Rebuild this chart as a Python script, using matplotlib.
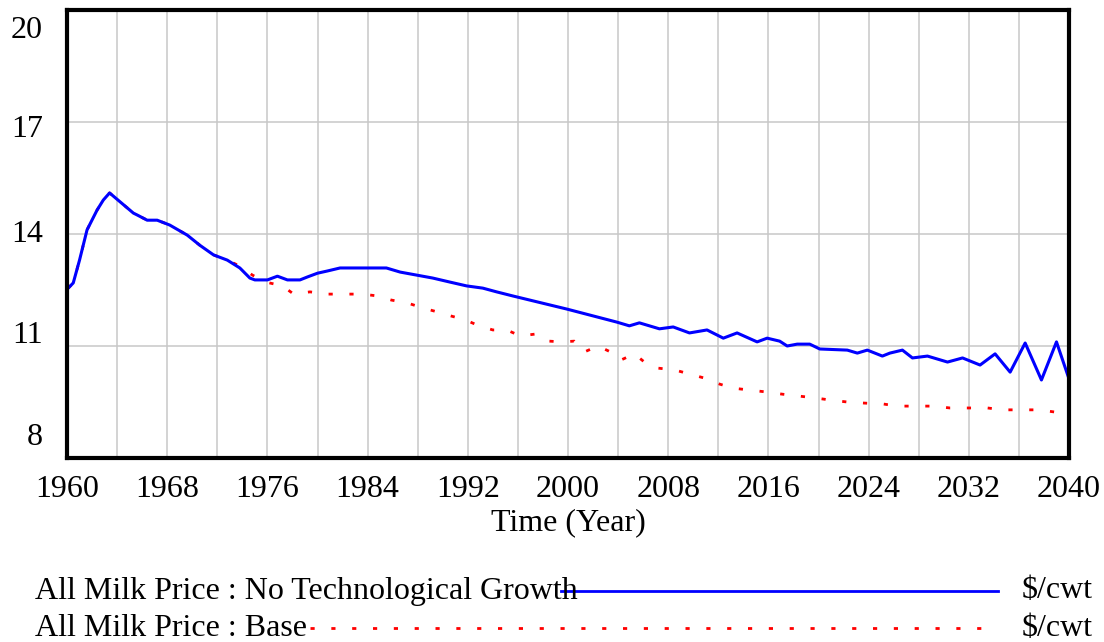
import numpy as np
import matplotlib.pyplot as plt
from matplotlib.lines import Line2D

# values (year, $/cwt)
years_ntg = [1960.1, 1960.5, 1961.0, 1961.6, 1962.4, 1962.9, 1963.4, 1965.3, 1965.6,
             1966.4, 1967.2, 1968.2, 1969.6, 1970.6, 1971.7, 1972.8, 1973.8, 1974.6,
             1975.0, 1976.0, 1976.8, 1977.6, 1978.6, 1979.2, 1980.0, 1980.8, 1981.8,
             1984.0, 1985.5, 1986.6, 1987.9, 1989.2, 1990.6, 1991.9, 1993.2, 1994.3,
             1995.6, 1998.3, 1999.9, 2002.3, 2003.9, 2004.9, 2005.7, 2007.3, 2008.4,
             2009.7, 2011.1, 2012.4, 2013.5, 2015.1, 2015.9, 2016.9, 2017.5, 2018.3,
             2019.3, 2020.1, 2022.3, 2023.1, 2023.9, 2025.1, 2025.7, 2026.7, 2027.5,
             2028.7, 2030.3, 2031.5, 2032.9, 2034.1, 2035.3, 2036.5, 2037.8, 2039.0,
             2040.0]
price_ntg = [12.55, 12.69, 13.30, 14.11, 14.64, 14.91, 15.10, 14.56, 14.51,
             14.37, 14.37, 14.24, 13.97, 13.70, 13.44, 13.30, 13.09, 12.82,
             12.77, 12.77, 12.87, 12.77, 12.77, 12.85, 12.95, 13.01, 13.09,
             13.09, 13.09, 12.98, 12.90, 12.82, 12.71, 12.61, 12.55, 12.45,
             12.34, 12.12, 11.99, 11.78, 11.64, 11.54, 11.62, 11.46, 11.51,
             11.35, 11.43, 11.21, 11.35, 11.11, 11.21, 11.13, 11.00, 11.05,
             11.05, 10.92, 10.89, 10.81, 10.89, 10.73, 10.81, 10.89, 10.68,
             10.73, 10.57, 10.68, 10.49, 10.79, 10.30, 11.08, 10.09, 11.11,
             10.12]

years_base = [1960.1, 1960.5, 1961.0, 1961.6, 1962.4, 1962.9, 1963.4, 1965.3, 1966.4,
              1967.2, 1968.2, 1969.6, 1970.6, 1971.7, 1972.8, 1973.8, 1974.8, 1975.9,
              1977.2, 1978.1, 1979.4, 1980.7, 1982.0, 1983.6, 1984.8, 1985.9, 1987.2,
              1988.4, 1989.6, 1990.7, 1991.8, 1992.9, 1994.0, 1995.1, 1996.2, 1997.4,
              1998.5, 1999.5, 2000.5, 2001.3, 2002.4, 2003.4, 2004.2, 2005.3, 2006.1,
              2007.1, 2008.5, 2009.7, 2010.9, 2012.1, 2013.2, 2014.5, 2015.8, 2017.1,
              2018.4, 2019.7, 2021.0, 2022.3, 2023.7, 2025.1, 2026.3, 2027.9, 2029.2,
              2030.5, 2031.9, 2033.5, 2034.7, 2036.2, 2037.6, 2038.9]
price_base = [12.55, 12.69, 13.30, 14.11, 14.64, 14.91, 15.10, 14.56, 14.37,
              14.37, 14.24, 13.97, 13.70, 13.44, 13.30, 13.14, 12.90, 12.71,
              12.61, 12.39, 12.45, 12.39, 12.39, 12.39, 12.34, 12.23, 12.15,
              12.02, 11.91, 11.80, 11.70, 11.54, 11.43, 11.43, 11.27, 11.32,
              11.13, 11.11, 11.13, 10.84, 11.00, 10.84, 10.62, 10.79, 10.57,
              10.41, 10.36, 10.25, 10.14, 9.98, 9.87, 9.82, 9.77, 9.71,
              9.66, 9.61, 9.55, 9.50, 9.47, 9.45, 9.39, 9.39, 9.39,
              9.34, 9.34, 9.34, 9.29, 9.29, 9.29, 9.23]

x_ticks = list(range(1960, 2041, 8))
y_ticks = [8, 11, 14, 17, 20]

plt.rcParams['font.family'] = ['Liberation Serif', 'DejaVu Serif']
FS = 23

W, H = 1104, 642
fig = plt.figure(figsize=(W / 100, H / 100), dpi=100)
ax = fig.add_axes([67 / W, 1 - 458 / H, (1069 - 67) / W, (458 - 10) / H])

ax.set_xlim(1960, 2040)
ax.set_ylim(8, 20)

# grid: every 4 years, every 3 units
ax.set_xticks(x_ticks)
ax.set_xticks(range(1964, 2040, 8), minor=True)
ax.set_yticks(y_ticks)
ax.grid(True, which='both', color='#c8c8c8', linewidth=1.1)
ax.set_axisbelow(True)
ax.tick_params(axis='both', which='both', length=0)
ax.tick_params(axis='x', labelsize=FS, pad=12)
ax.set_yticklabels([])

# y labels placed the way the original tool does
ylab_pos = {20: 19.45, 17: 16.8, 14: 14.0, 11: 11.27, 8: 8.54}
for v, pos in ylab_pos.items():
    ax.text(-0.024, pos, str(v), transform=ax.get_yaxis_transform(),
            ha='right', va='center', fontsize=FS)

for sp in ax.spines.values():
    sp.set_linewidth(3)
    sp.set_color('black')

ax.plot(years_base, price_base, color='red', linewidth=2, linestyle=(0, (1.5, 6)))
ax.plot(years_ntg, price_ntg, color='blue', linewidth=2.2)

ax.set_xlabel('Time (Year)', fontsize=FS, labelpad=3)

# legend rows at the bottom
def fx(px):
    return px / W

def fy(py):
    return 1 - py / H

fig.text(fx(35), fy(591), 'All Milk Price : No Technological Growth', fontsize=FS,
         ha='left', va='center')
fig.text(fx(35), fy(628), 'All Milk Price : Base', fontsize=FS, ha='left', va='center')
fig.text(fx(1022), fy(591), '$/cwt', fontsize=FS, ha='left', va='center')
fig.text(fx(1022), fy(628), '$/cwt', fontsize=FS, ha='left', va='center')
fig.add_artist(Line2D([fx(561), fx(998)], [fy(591), fy(591)], color='blue', linewidth=2))
fig.add_artist(Line2D([fx(310), fx(995)], [fy(628), fy(628)], color='red', linewidth=2,
                      linestyle=(0, (1.5, 6))))

fig.savefig('out.png', dpi=100)
